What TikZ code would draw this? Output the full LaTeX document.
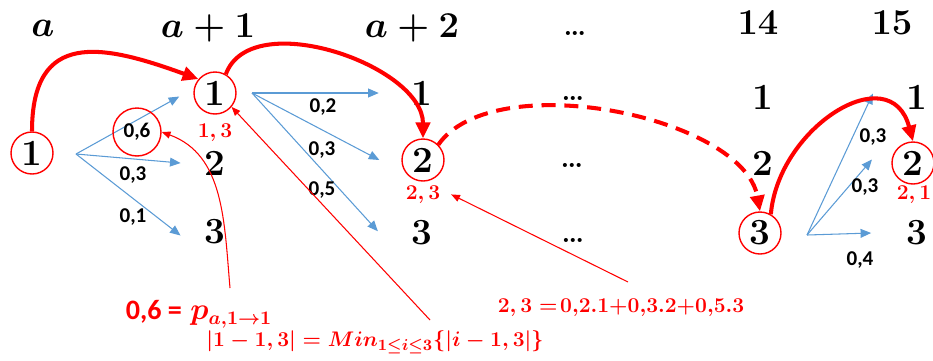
\documentclass[tikz,border=0pt]{standalone}
\usepackage{fontspec}
\setsansfont{Carlito}
\usepackage{amsmath}
\usetikzlibrary{arrows.meta, positioning}
\definecolor{PathRed}{RGB}{255, 0, 0}
\definecolor{FanBlue}{RGB}{91, 155, 213}
\tikzset{
  head/.style={font=\fontsize{20}{22}\selectfont\boldmath, inner sep=1pt},
  bighead/.style={font=\fontsize{22}{24}\selectfont\boldmath, inner sep=1pt},
  state/.style={font=\fontsize{21}{23}\selectfont\bfseries, inner sep=1pt},
  visited/.style={state, draw=PathRed, thick, circle, minimum size=0.84cm},
  skip/.style={font=\fontsize{16}{18}\selectfont\bfseries, inner sep=0pt},
  prob/.style={font=\fontsize{12}{14}\selectfont\sffamily\bfseries, inner sep=1pt},
  cost/.style={font=\fontsize{12}{14}\selectfont\boldmath, text=PathRed, inner sep=1pt},
  formula/.style={font=\fontsize{12.5}{15}\selectfont\boldmath, text=PathRed, inner sep=1pt},
  fan/.style={-{Triangle[length=6pt, width=5pt]}, FanBlue, line width=0.6pt},
  best/.style={-{Triangle[length=9pt, width=8pt]}, PathRed, line width=2.3pt},
  note/.style={-{Triangle[length=5pt, width=4pt]}, PathRed, line width=0.6pt}
}
\begin{document}
\begin{tikzpicture}[x=0.02cm, y=-0.02cm]
    \useasboundingbox (0,0) rectangle (933,360);

    % column headers
    \node[head] (ha) at (43,28) {$a$};
    \node[head] (ha1) at (208,28) {$a+1$};
    \node[head] (ha2) at (412,28) {$a+2$};
    \node[skip] (hd) at (575,33) {\ldots};
    \node[bighead] (h14) at (758,23) {$14$};
    \node[bighead] (h15) at (892,23) {$15$};

    % states
    \node[visited] (n01) at (32,153) {1};
    \node[visited] (n11) at (215,93) {1};
    \node[state] (n12) at (215,163) {2};
    \node[state] (n13) at (215,232) {3};
    \node[state] (n21) at (422,93) {1};
    \node[visited] (n22) at (423,160) {2};
    \node[state] (n23) at (422,233) {3};
    \node[skip] (d1) at (573,98) {\ldots};
    \node[skip] (d2) at (572,165) {\ldots};
    \node[skip] (d3) at (573,240) {\ldots};
    \node[state] (n141) at (763,97) {1};
    \node[state] (n142) at (763,163) {2};
    \node[visited] (n143) at (760,233) {3};
    \node[state] (n151) at (917,97) {1};
    \node[visited] (n152) at (913,163) {2};
    \node[state] (n153) at (917,233) {3};

    \node[cost, below=4pt of n11] (c11) {$1,3$};
    \node[cost, below=1pt of n22] (c22) {$2,3$};
    \node[cost] (c152) at (914,195) {$2,1$};

    % transition fans
    \coordinate (f0) at (76,154);
    \coordinate (f1) at (252,93);
    \coordinate (f14) at (807,235);
    \draw[fan] (f0) -- ([xshift=-8pt, yshift=-2pt]n11.west);
    \draw[fan] (f0) -- ([xshift=-12.5pt]n12.west);
    \draw[fan] (f0) -- ([xshift=-12.5pt, yshift=-2pt]n13.west);
    \draw[fan] (f1) -- ([xshift=-17.5pt]n21.west);
    \draw[fan] (f1) -- ([xshift=-12.5pt]n22.west);
    \draw[fan] (f1) -- ([xshift=-18pt, yshift=1pt]n23.west);
    \draw[fan] (f14) -- ([xshift=-18pt, yshift=2pt]n151.west);
    \draw[fan] (f14) -- ([xshift=-11pt, yshift=2pt]n152.west);
    \draw[fan] (f14) -- ([xshift=-19pt]n153.west);

    \node[prob, draw=PathRed, thick, circle, minimum size=0.96cm] (pa11) at (137,132) {0,6};
    \node[prob] (pa12) at (133,175) {0,3};
    \node[prob] (pa13) at (133,217) {0,1};
    \node[prob] (p11) at (323,107) {0,2};
    \node[prob] (p12) at (322,150) {0,3};
    \node[prob] (p13) at (322,190) {0,5};
    \node[prob] (p141) at (873,137) {0,3};
    \node[prob] (p142) at (865,187) {0,3};
    \node[prob] (p143) at (860,260) {0,4};

    % best path
    \draw[best] (n01.north) to[out=90, in=160, looseness=1.5] (n11.140);
    \draw[best] (n11.60) to[out=70, in=90, looseness=0.9] (n22.north);
    \draw[best, dash pattern=on 8pt off 5pt] (n22.45) to[out=55, in=100, looseness=0.75] (n143.north);
    \draw[best] (n143.60) to[out=85, in=105, looseness=1.4] (n152.north);

    % explanations
    \node[formula, font=\fontsize{16}{18}\selectfont\boldmath] (fp) at (199,314) {{\sffamily\bfseries 0,6 =} $p_{a,1\to 1}$};
    \node[formula] (fmin) at (375,342) {$|1-1,3| = Min_{1\le i\le 3}\{|i-1,3|\}$};
    \node[formula, font=\fontsize{13}{15}\selectfont\boldmath] (fsum) at (621,308) {$2,3 =\!0{,}2.1{+}0{,}3.2{+}0{,}5.3$};

    \coordinate (t1) at (230,288);
    \coordinate (t2) at (430,320);
    \coordinate (t3) at (628,282);
    \draw[note] (t1) to[out=95, in=-20] (pa11.east);
    \draw[note] (t2) -- (n11.-40);
    \draw[note] (t3) -- ([xshift=5pt]c22.east);
\end{tikzpicture}
\end{document}
